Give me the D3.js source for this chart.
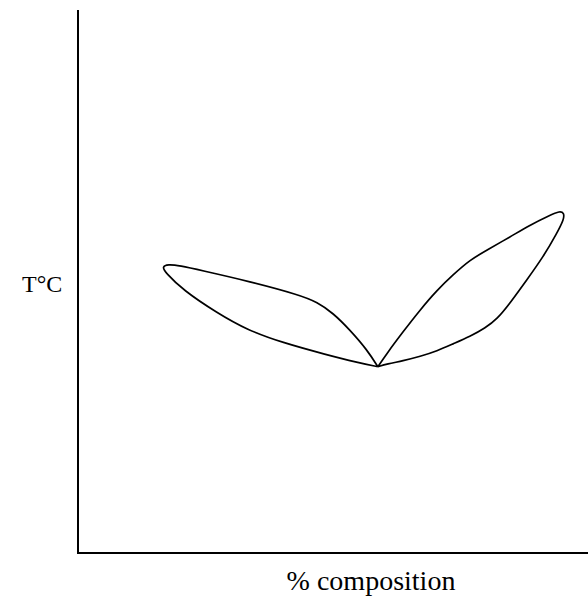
<!DOCTYPE html>
<html>
<head>
<meta charset="utf-8">
<script src="https://cdn.jsdelivr.net/npm/d3@7"></script>
<style>
  html, body { margin: 0; padding: 0; background: #fff; }
  svg { display: block; }
</style>
</head>
<body>
<svg id="chart" width="588" height="601"></svg>
<script>
// Phase diagram: composition (%) vs temperature, two liquidus/solidus lenses
// meeting at a eutectic point.

// Left lens: upper (liquidus) branch from the eutectic out to the tip
const leftUpper = [
  [58.8, 34.3], [56.7, 37.4], [53.3, 41.1], [50.0, 44.2], [46.9, 46.2],
  [43.5, 47.5], [33.7, 50.0], [23.9, 52.1], [20.0, 52.9], [17.6, 53.2],
  [16.5, 52.7]
];
// Left lens: lower (solidus) branch from the tip back to the eutectic
const leftLower = [
  [16.5, 52.7], [17.1, 51.7], [20.6, 48.4], [27.3, 44.2], [33.1, 41.1],
  [40.2, 38.7], [48.8, 36.5], [54.7, 35.1], [58.8, 34.3]
];
// Right lens: upper branch from the eutectic out to the tip
const rightUpper = [
  [58.8, 34.3], [60.6, 36.8], [63.7, 40.7], [67.1, 44.8], [70.4, 48.4],
  [73.5, 51.2], [76.9, 54.0], [80.2, 55.8], [84.7, 58.2], [88.6, 60.4],
  [92.5, 62.2], [94.5, 63.0], [95.3, 62.6]
];
// Right lens: lower branch from the tip back to the eutectic
const rightLower = [
  [95.3, 62.6], [95.3, 61.5], [93.9, 58.9], [91.2, 54.5], [88.0, 50.3],
  [84.7, 46.0], [82.2, 43.1], [79.8, 41.4], [76.9, 39.9], [73.5, 38.5],
  [70.4, 37.2], [67.1, 36.2], [63.7, 35.4], [60.6, 34.8], [58.8, 34.3]
];

const xLabel = "% composition";
const yLabel = "T°C";

const serif = "'Liberation Serif', 'Times New Roman', Times, 'DejaVu Serif', serif";

const svg = d3.select("#chart");

const x = d3.scaleLinear().domain([0, 100]).range([78, 588]);
const y = d3.scaleLinear().domain([0, 100]).range([553, 10]);

// Axes: plain lines, no ticks
svg.append("line")
  .attr("x1", x(0)).attr("x2", x(0))
  .attr("y1", y(0) + 1).attr("y2", y(100))
  .attr("stroke", "#000").attr("stroke-width", 2);
svg.append("line")
  .attr("x1", x(0) - 1).attr("x2", x(100))
  .attr("y1", y(0)).attr("y2", y(0))
  .attr("stroke", "#000").attr("stroke-width", 2);

const line = d3.line()
  .x(d => x(d[0]))
  .y(d => y(d[1]))
  .curve(d3.curveBasis);

// Each lens is one open path: eutectic -> tip -> eutectic, so the cusp stays sharp
const lenses = [
  leftUpper.concat(leftLower.slice(1)),
  rightUpper.concat(rightLower.slice(1))
];

svg.selectAll("path.lens")
  .data(lenses)
  .join("path")
  .attr("class", "lens")
  .attr("d", line)
  .attr("fill", "none")
  .attr("stroke", "#000")
  .attr("stroke-width", 1.7)
  .attr("stroke-linejoin", "round");

svg.append("text")
  .attr("x", 22).attr("y", 292)
  .attr("font-family", serif)
  .attr("font-size", 24)
  .attr("fill", "#000")
  .text(yLabel);

svg.append("text")
  .attr("x", 371).attr("y", 590)
  .attr("text-anchor", "middle")
  .attr("font-family", serif)
  .attr("font-size", 28)
  .attr("fill", "#000")
  .text(xLabel);
</script>
</body>
</html>
